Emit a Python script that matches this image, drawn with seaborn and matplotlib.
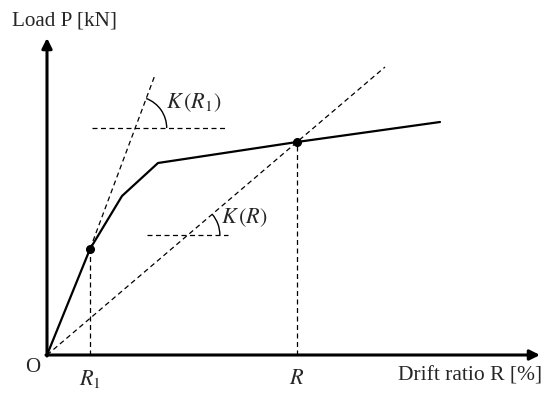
import numpy as np
import pandas as pd
import seaborn as sns
import matplotlib.pyplot as plt
from matplotlib.patches import Arc

# skeleton curve (schematic units)
drift = [0.0, 0.86, 1.5, 2.22, 5.0, 7.86]
load = [0.0, 2.12, 3.18, 3.84, 4.26, 4.66]

# characteristic points
R1, P1 = 0.86, 2.12
R, P = 5.0, 4.26
tangent_top = (2.16, 5.6)     # end of tangent line at R1
secant_top_x = 6.76           # end of secant line through R

# reference horizontal lines for the angles
h1_y, h1_x = 4.54, (0.9, 3.62)
h2_y, h2_x = 2.4, (2.0, 3.62)

sns.set_style("white")
plt.rcParams['font.family'] = ['Liberation Serif', 'DejaVu Serif']
plt.rcParams['mathtext.fontset'] = 'stix'

fig = plt.figure(figsize=(5.5, 3.97), dpi=100)
ax = fig.add_axes([0, 0, 1, 1])
ax.set_xlim(-0.94, 10.06)
ax.set_ylim(-0.84, 7.10)
ax.axis('off')

df = pd.DataFrame({"R": drift, "P": load})
sns.lineplot(data=df, x="R", y="P", color="black", linewidth=1.6, sort=False, ax=ax)

dash = dict(color="black", linewidth=0.9, linestyle=(0, (4, 2.8)))

# tangent at R1
ax.plot([R1, tangent_top[0]], [P1, tangent_top[1]], **dash)
# secant through R
k = P / R
ax.plot([0, secant_top_x], [0, k * secant_top_x], **dash)
# verticals
ax.plot([R1, R1], [0, P1], **dash)
ax.plot([R, R], [0, P], **dash)
# horizontals
ax.plot(h1_x, [h1_y, h1_y], **dash)
ax.plot(h2_x, [h2_y, h2_y], **dash)

# angle arcs
kt = (tangent_top[1] - P1) / (tangent_top[0] - R1)
c1 = R1 + (h1_y - P1) / kt
ax.add_patch(Arc((c1, h1_y), 1.26, 1.26, theta1=0, theta2=np.degrees(np.arctan(kt)),
                 color="black", linewidth=1.0))
c2 = h2_y / k
ax.add_patch(Arc((c2, h2_y), 1.28, 1.28, theta1=0, theta2=np.degrees(np.arctan(k)),
                 color="black", linewidth=1.0))

ax.text(2.38, 5.04, r"$K\,(R_1)$", fontsize=16, va="center", ha="left")
ax.text(3.48, 2.74, r"$K\,(R)$", fontsize=16, va="center", ha="left")

# points
ax.plot([R1, R], [P1, P], "o", color="black", markersize=5.5)

# axes arrows
arrow = dict(arrowstyle="-|>,head_length=0.6,head_width=0.3", color="black",
             linewidth=2.2, shrinkA=0, shrinkB=0)
ax.annotate("", xy=(0, 6.34), xytext=(0, -0.02), arrowprops=arrow)
ax.annotate("", xy=(9.86, 0), xytext=(-0.02, 0), arrowprops=arrow)

# labels
ax.text(-0.28, -0.26, "O", fontsize=15, ha="center", va="center")
ax.text(R1, -0.48, r"$R_1$", fontsize=16, ha="center", va="center")
ax.text(R, -0.48, r"$R$", fontsize=16, ha="center", va="center")
ax.text(9.9, -0.42, "Drift ratio R [%]", fontsize=15.5, ha="right", va="center")
ax.text(-0.7, 6.68, "Load P [kN]", fontsize=15.2, ha="left", va="center")

fig.savefig("out.png", dpi=100)
